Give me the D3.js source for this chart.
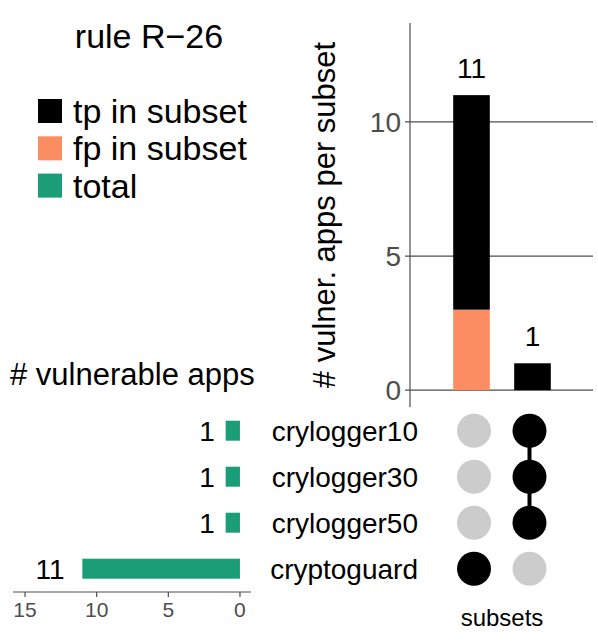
<!DOCTYPE html>
<html><head><meta charset="utf-8">
<script src="https://cdn.jsdelivr.net/npm/d3@7"></script>
<style>body{margin:0;background:#fff}svg{display:block}text{font-family:"Liberation Sans",Arial,sans-serif}</style>
</head><body><svg id="c" width="598" height="642"></svg>
<script>
const subsets = ["cryptoguard only", "crylogger all"];
const tpValues = [8, 1];
const fpValues = [3, 0];
const subsetTotals = [11, 1];
const sets = ["crylogger10", "crylogger30", "crylogger50", "cryptoguard"];
const setTotals = [1, 1, 1, 11];
const membership = [[false, false, false, true], [true, true, true, false]];
const topTicks = [0, 5, 10];
const leftTicks = [0, 5, 10, 15];
const legendLabels = ["tp in subset", "fp in subset", "total"];
const legendColors = ["#000000", "#FC8D62", "#1B9E77"];

const svg = d3.select("#c");
const axisCol = "#4D4D4D";

// Title and legend
svg.append("text").attr("x", 149).attr("y", 48).attr("text-anchor", "middle")
  .attr("font-size", 34).text("rule R\u221226");
const leg = svg.append("g");
legendLabels.forEach((l, i) => {
  const cy = 111 + i * 37.3;
  leg.append("rect").attr("x", 38).attr("y", cy - 12).attr("width", 24).attr("height", 24).attr("fill", legendColors[i]);
  leg.append("text").attr("x", 73).attr("y", cy + 12).attr("font-size", 34).text(l);
});

// Top bar chart
const y = d3.scaleLinear().domain([-0.63, 13.69]).range([407, 23]);
const xb = d3.scaleBand().domain(subsets).range([441, 563]).paddingInner(0.4).paddingOuter(0.2);
const topG = svg.append("g");
topG.selectAll(".grid").data(topTicks).join("line")
  .attr("x1", 405).attr("x2", 593).attr("y1", d => y(d)).attr("y2", d => y(d))
  .attr("stroke", axisCol).attr("stroke-width", 1.2);
topG.append("line").attr("x1", 410).attr("x2", 410).attr("y1", y.range()[0]).attr("y2", y.range()[1])
  .attr("stroke", axisCol).attr("stroke-width", 1.2);
topG.selectAll(".tl").data(topTicks).join("text")
  .attr("x", 401).attr("y", d => y(d) + 10).attr("text-anchor", "end")
  .attr("font-size", 28).attr("fill", axisCol).text(d => d);
topG.append("text").attr("transform", `translate(335,${(y.range()[0] + y.range()[1]) / 2}) rotate(-90)`)
  .attr("text-anchor", "middle").attr("font-size", 31).text("# vulner. apps per subset");
subsets.forEach((s, i) => {
  topG.append("rect").attr("x", xb(s)).attr("width", xb.bandwidth())
    .attr("y", y(fpValues[i])).attr("height", y(0) - y(fpValues[i])).attr("fill", "#FC8D62");
  topG.append("rect").attr("x", xb(s)).attr("width", xb.bandwidth())
    .attr("y", y(fpValues[i] + tpValues[i])).attr("height", y(fpValues[i]) - y(fpValues[i] + tpValues[i])).attr("fill", "#000");
  topG.append("text").attr("x", xb(s) + xb.bandwidth() / 2).attr("y", y(subsetTotals[i]) - 17)
    .attr("text-anchor", "middle").attr("font-size", 28).text(subsetTotals[i]);
});

// Matrix
const xd = d3.scalePoint().domain(subsets).range([474, 529.5]);
const ys = d3.scalePoint().domain(sets).range([430.7, 568.7]);
const mat = svg.append("g");
subsets.forEach((s, i) => {
  const inSets = sets.filter((t, j) => membership[i][j]);
  if (inSets.length > 1) {
    mat.append("line").attr("x1", xd(s)).attr("x2", xd(s))
      .attr("y1", d3.min(inSets, t => ys(t))).attr("y2", d3.max(inSets, t => ys(t)))
      .attr("stroke", "#000").attr("stroke-width", 4);
  }
  sets.forEach((t, j) => {
    mat.append("circle").attr("cx", xd(s)).attr("cy", ys(t)).attr("r", 17)
      .attr("fill", membership[i][j] ? "#000" : "#CCCCCC");
  });
});
sets.forEach(t => {
  mat.append("text").attr("x", 418).attr("y", ys(t) + 10).attr("text-anchor", "end")
    .attr("font-size", 28).text(t);
});
svg.append("text").attr("x", 502).attr("y", 626).attr("text-anchor", "middle").attr("font-size", 24).text("subsets");

// Left bar chart
const xl = d3.scaleLinear().domain([-0.77, 15.84]).range([251, 13]);
const leftG = svg.append("g");
leftG.append("text").attr("x", 10).attr("y", 385).attr("font-size", 31).text("# vulnerable apps");
sets.forEach((t, j) => {
  leftG.append("rect").attr("x", xl(setTotals[j])).attr("width", xl(0) - xl(setTotals[j]))
    .attr("y", ys(t) - 10).attr("height", 20).attr("fill", "#1B9E77");
  leftG.append("text").attr("x", xl(setTotals[j] * 1.05) - 10).attr("y", ys(t) + 10)
    .attr("text-anchor", "end").attr("font-size", 28).text(setTotals[j]);
});
leftG.append("line").attr("x1", xl.range()[0]).attr("x2", xl.range()[1]).attr("y1", 592).attr("y2", 592)
  .attr("stroke", axisCol).attr("stroke-width", 1.2);
leftG.selectAll(".tk").data(leftTicks).join("line")
  .attr("x1", d => xl(d)).attr("x2", d => xl(d)).attr("y1", 592).attr("y2", 597)
  .attr("stroke", axisCol).attr("stroke-width", 1.2);
leftG.selectAll(".tkl").data(leftTicks).join("text")
  .attr("x", d => xl(d)).attr("y", 617).attr("text-anchor", "middle")
  .attr("font-size", 21).attr("fill", axisCol).text(d => d);
</script></body></html>
